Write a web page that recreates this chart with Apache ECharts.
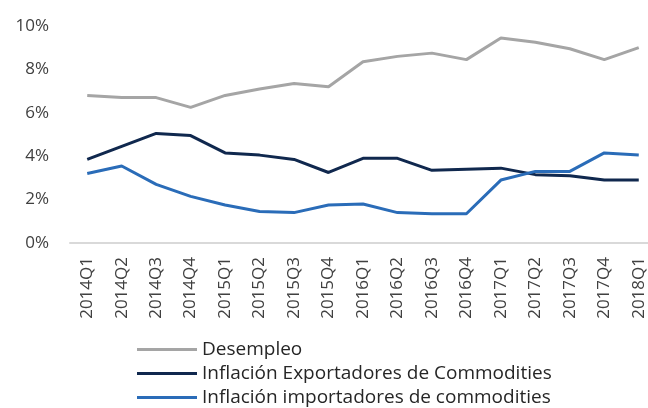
<!DOCTYPE html>
<html>
<head>
<meta charset="utf-8">
<script src="https://cdn.jsdelivr.net/npm/echarts@6/dist/echarts.min.js"></script>
<style>
  html, body { margin: 0; padding: 0; background: #fff; }
  #main { width: 648px; height: 408px; }
</style>
</head>
<body>
<div id="main"></div>
<script>
// categorías (trimestres)
var quarters = ['2014Q1', '2014Q2', '2014Q3', '2014Q4', '2015Q1', '2015Q2', '2015Q3', '2015Q4',
  '2016Q1', '2016Q2', '2016Q3', '2016Q4', '2017Q1', '2017Q2', '2017Q3', '2017Q4', '2018Q1'];

// series (%)
var desempleo = [6.8, 6.7, 6.7, 6.25, 6.8, 7.1, 7.35, 7.2, 8.35, 8.6, 8.75, 8.45, 9.45, 9.25, 8.95, 8.45, 9.0];
var inflExportadores = [3.85, 4.45, 5.05, 4.95, 4.15, 4.05, 3.85, 3.25, 3.9, 3.9, 3.35, 3.4, 3.45, 3.15, 3.1, 2.9, 2.9];
var inflImportadores = [3.2, 3.55, 2.7, 2.15, 1.75, 1.45, 1.4, 1.75, 1.8, 1.4, 1.35, 1.35, 2.9, 3.3, 3.3, 4.15, 4.05];

// eje y
var yTicks = [0, 2, 4, 6, 8, 10];

var Chart = echarts.init(document.getElementById('main'));

var fontFamily = '"Open Sans", "Noto Sans", sans-serif';

function lineSeries(name, data, color) {
  return {
    name: name,
    type: 'line',
    data: data,
    symbol: 'none',
    smooth: false,
    lineStyle: { color: color, width: 3 },
    itemStyle: { color: color }
  };
}

var option = {
  backgroundColor: '#fff',
  animation: false,
  grid: {
    left: 70,
    right: -8,
    top: 26,
    bottom: 165,
    outerBoundsMode: 'none'
  },
  xAxis: {
    type: 'category',
    data: quarters,
    boundaryGap: true,
    axisLine: {
      show: true,
      lineStyle: { color: '#d9d9d9', width: 2 }
    },
    axisTick: { show: false },
    axisLabel: {
      interval: 0,
      rotate: 90,
      margin: 14,
      color: '#404040',
      fontSize: 17,
      fontFamily: fontFamily
    }
  },
  yAxis: {
    type: 'value',
    min: yTicks[0],
    max: yTicks[yTicks.length - 1],
    interval: 2,
    splitLine: { show: false },
    axisLine: { show: false },
    axisTick: { show: false },
    axisLabel: {
      margin: 21,
      color: '#404040',
      fontSize: 17,
      fontFamily: fontFamily,
      formatter: function (v) {
        return v + '%';
      }
    }
  },
  legend: {
    orient: 'vertical',
    left: 137,
    top: 340,
    height: 100,
    padding: 0,
    itemWidth: 60,
    itemHeight: 12,
    itemGap: 5,
    icon: 'path://M0,4.5 L60,4.5 L60,7.5 L0,7.5 Z',
    textStyle: {
      color: '#262626',
      fontSize: 19,
      lineHeight: 19,
      fontFamily: fontFamily,
      padding: [0, 0, 0, 0]
    },
    data: ['Desempleo', 'Inflación Exportadores de Commodities', 'Inflación importadores de commodities']
  },
  series: [
    lineSeries('Desempleo', desempleo, '#a5a5a5'),
    lineSeries('Inflación Exportadores de Commodities', inflExportadores, '#10284e'),
    lineSeries('Inflación importadores de commodities', inflImportadores, '#2a6cb8')
  ]
};

Chart.setOption(option);
</script>
</body>
</html>
